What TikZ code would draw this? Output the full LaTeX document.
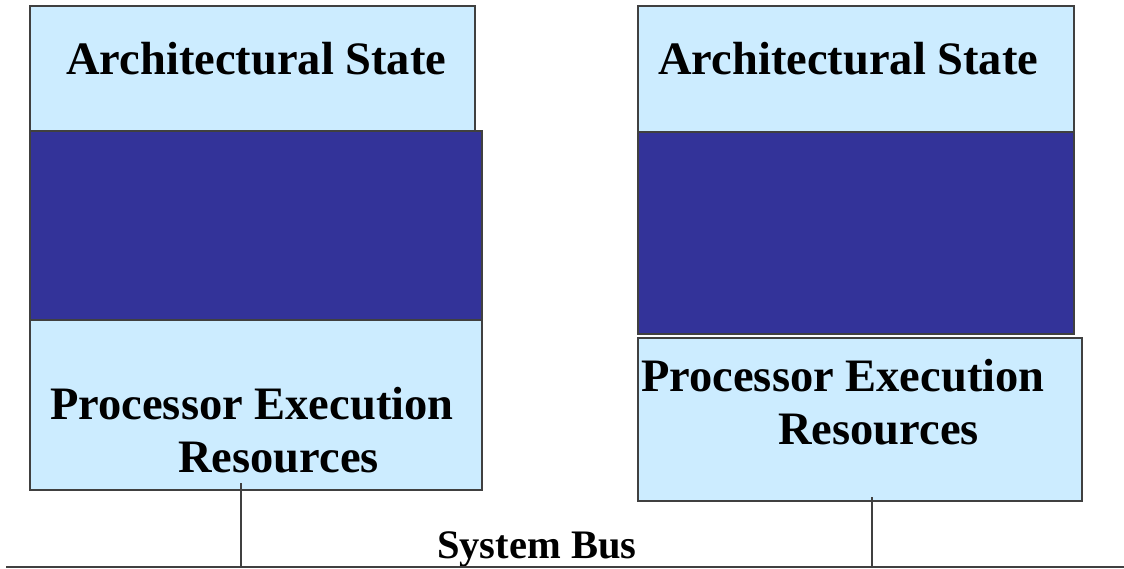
\documentclass[tikz,border=0pt]{standalone}
\usepackage{fontspec}
\setmainfont{Liberation Serif}
\definecolor{lightcell}{HTML}{CCECFF}
\definecolor{darkcell}{HTML}{333399}
\definecolor{edge}{HTML}{404040}
\begin{document}
\begin{tikzpicture}[x=1pt,y=-1pt,
  box/.style={draw=edge,line width=1.5pt,inner sep=0pt,outer sep=0pt,anchor=north west},
  light/.style={box,fill=lightcell},
  dark/.style={box,fill=darkcell},
  lbl/.style={font=\bfseries\fontsize{46.5}{52}\selectfont,anchor=base west,inner sep=0pt},
  buslbl/.style={font=\bfseries\fontsize{40.5}{46}\selectfont,anchor=base west,inner sep=0pt},
  wire/.style={draw=edge,line width=1.3pt}]
\useasboundingbox (0,0) rectangle (1124,569);
% left column
\node[light,minimum width=445pt,minimum height=125pt] (archL) at (30,6) {};
\node[dark,minimum width=452pt,minimum height=189pt] (darkL) at (30,131) {};
\node[light,minimum width=452pt,minimum height=170pt] (procL) at (30,320) {};
% right column
\node[light,minimum width=436pt,minimum height=126pt] (archR) at (638,6) {};
\node[dark,minimum width=436pt,minimum height=202pt] (darkR) at (638,132) {};
\node[light,minimum width=444pt,minimum height=163pt] (procR) at (638,338) {};
% labels
\node[lbl] (tArchL) at (66,75) {Architectural State};
\node[lbl] (tArchR) at (658,75) {Architectural State};
\node[lbl] (tProcL1) at (50,419) {Processor Execution};
\node[lbl] (tProcL2) at (178,472) {Resources};
\node[lbl] (tProcR1) at (641,391) {Processor Execution};
\node[lbl] (tProcR2) at (778,444) {Resources};
\node[buslbl] (tBus) at (437,558) {System Bus};
% bus
\coordinate (busW) at (6,567);
\coordinate (busE) at (1124,567);
\draw[wire] (busW) -- (busE);
\coordinate (tapL) at (241,483);
\coordinate (tapR) at (872,497);
\draw[wire] (tapL) -- (tapL |- busW);
\draw[wire] (tapR) -- (tapR |- busW);
\end{tikzpicture}
\end{document}
